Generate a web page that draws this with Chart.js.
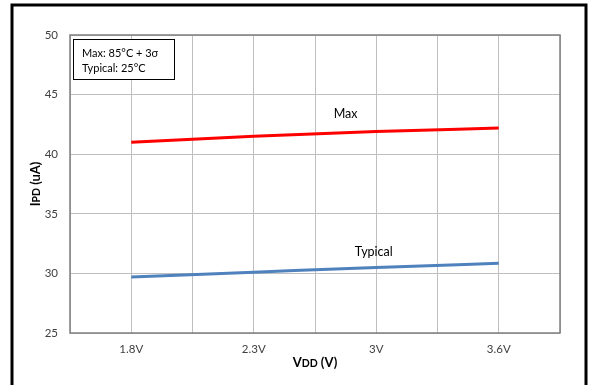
<!doctype html>
<html>
<head>
    <title>IPD vs VDD</title>
    <script src="https://cdn.jsdelivr.net/npm/chart.js@4.4.1/dist/chart.umd.min.js"></script>
    <style>
    html, body { margin: 0; padding: 0; background: #fff; }
    #wrap { width: 589px; height: 385px; }
    </style>
</head>
<body>
    <div id="wrap"><canvas id="canvas" width="589" height="385"></canvas></div>
    <script>
    // values
    var categories = ['1.8V', '2.3V', '3V', '3.6V'];
    var maxValues = [41.0, 41.5, 41.9, 42.2];
    var typicalValues = [29.7, 30.1, 30.5, 30.85];
    var yTicks = [25, 30, 35, 40, 45, 50];

    var FONT = 'Lato, "Open Sans", sans-serif';

    function points(vals) {
        return vals.map(function (v, i) { return { x: i + 1, y: v }; });
    }

    // draws the frame, plot border, axis titles, note box and series labels
    var decorations = {
        id: 'decorations',
        afterDraw: function (chart) {
            var ctx = chart.ctx, a = chart.chartArea;
            var xs = chart.scales.x, ys = chart.scales.y;
            ctx.save();

            ctx.strokeStyle = '#000';
            ctx.lineWidth = 3;
            ctx.strokeRect(12, 5, 574, 390);

            ctx.strokeStyle = '#7f7f7f';
            ctx.lineWidth = 1.5;
            ctx.strokeRect(a.left, a.top, a.right - a.left, a.bottom - a.top);

            // note box
            ctx.fillStyle = '#fff';
            ctx.fillRect(a.left + 3, a.top + 4, 102, 40);
            ctx.strokeStyle = '#000';
            ctx.lineWidth = 1;
            ctx.strokeRect(a.left + 3.5, a.top + 4.5, 101, 40);
            ctx.fillStyle = '#000';
            ctx.font = '11px ' + FONT;
            ctx.textBaseline = 'middle';
            ctx.textAlign = 'left';
            ctx.fillText('Max: 85\u00B0C + 3\u03C3', a.left + 12, a.top + 18);
            ctx.fillText('Typical: 25\u00B0C', a.left + 12, a.top + 33);

            // series labels
            ctx.font = '12.5px ' + FONT;
            ctx.textAlign = 'center';
            ctx.fillText('Max', xs.getPixelForValue(2.75), ys.getPixelForValue(43.4));
            ctx.fillText('Typical', xs.getPixelForValue(2.98), ys.getPixelForValue(31.8));

            // axis titles with small caps subscripts
            function mixed(parts, cx, cy) {
                var w = 0;
                parts.forEach(function (p) { ctx.font = 'bold ' + p[1] + 'px ' + FONT; w += ctx.measureText(p[0]).width; });
                var x = cx - w / 2;
                ctx.textAlign = 'left';
                ctx.textBaseline = 'alphabetic';
                parts.forEach(function (p) {
                    ctx.font = 'bold ' + p[1] + 'px ' + FONT;
                    ctx.fillText(p[0], x, cy);
                    x += ctx.measureText(p[0]).width;
                });
            }
            ctx.fillStyle = '#000';
            mixed([['V', 13], ['DD', 10.5], [' (V)', 13]], (a.left + a.right) / 2, 367);
            ctx.save();
            ctx.translate(40, (a.top + a.bottom) / 2);
            ctx.rotate(-Math.PI / 2);
            mixed([['I', 13], ['PD', 10.5], [' (uA)', 13]], 0, 0);
            ctx.restore();

            ctx.restore();
        }
    };

    var config = {
        type: 'line',
        data: {
            datasets: [{
                label: 'Max',
                data: points(maxValues),
                borderColor: '#ff0000',
                borderWidth: 3,
                pointRadius: 0,
                tension: 0.4,
                cubicInterpolationMode: 'monotone'
            }, {
                label: 'Typical',
                data: points(typicalValues),
                borderColor: '#4f81bd',
                borderWidth: 3,
                pointRadius: 0,
                tension: 0.4,
                cubicInterpolationMode: 'monotone'
            }]
        },
        options: {
            responsive: false,
            animation: false,
            events: [],
            layout: { padding: { left: 0, top: 35, right: 29, bottom: 0 } },
            plugins: {
                legend: { display: false },
                title: { display: false },
                tooltip: { enabled: false }
            },
            scales: {
                x: {
                    type: 'linear',
                    min: 0.5,
                    max: 4.5,
                    afterFit: function (s) { s.height = 52; },
                    afterBuildTicks: function (s) {
                        var t = [];
                        for (var v = 0.5; v <= 4.5; v += 0.5) t.push({ value: v });
                        s.ticks = t;
                    },
                    border: { display: false },
                    grid: { color: '#bfbfbf', lineWidth: 1, drawTicks: false },
                    ticks: {
                        autoSkip: false,
                        maxRotation: 0,
                        padding: 9,
                        color: '#404040',
                        font: { family: FONT, size: 11.5 },
                        callback: function (v) {
                            return Number.isInteger(v) ? categories[v - 1] : '';
                        }
                    }
                },
                y: {
                    min: yTicks[0],
                    max: yTicks[yTicks.length - 1],
                    afterFit: function (s) { s.width = 70; },
                    afterBuildTicks: function (s) {
                        s.ticks = yTicks.map(function (v) { return { value: v }; });
                    },
                    border: { display: false },
                    grid: { color: '#bfbfbf', lineWidth: 1, drawTicks: false },
                    ticks: {
                        padding: 12,
                        color: '#404040',
                        font: { family: FONT, size: 11.5 }
                    }
                }
            }
        },
        plugins: [decorations]
    };

    window.onload = function () {
        window.myLine = new Chart(document.getElementById('canvas'), config);
    };
    </script>
</body>
</html>
